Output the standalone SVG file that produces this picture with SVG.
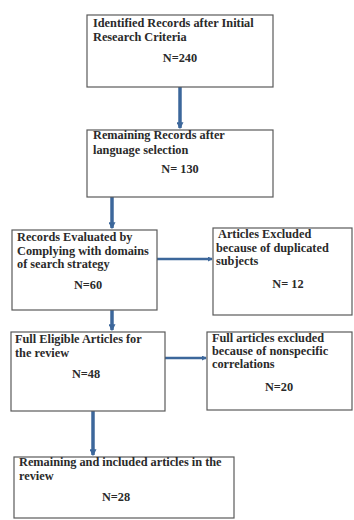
<svg xmlns="http://www.w3.org/2000/svg" width="354" height="520" viewBox="0 0 354 520">
<defs>
<style>
.box{fill:#fff;stroke:#5a5a5a;stroke-width:1.2}
.t{font-family:"Liberation Serif","Times New Roman",serif;font-size:12.3px;font-weight:bold;fill:#2a2a2a}
.c{text-anchor:middle}
.v{stroke:#3c679b;stroke-width:3.5;fill:none}
.h{stroke:#3c679b;stroke-width:2.5;fill:none}
</style>
<marker id="ah" viewBox="0 0 6 6" refX="5" refY="3" markerWidth="2" markerHeight="2" orient="auto" markerUnits="strokeWidth">
<path d="M0,0 L6,3 L0,6 z" fill="#3c679b"/>
</marker>
</defs>
<rect width="354" height="520" fill="#fff"/>
<g id="connectors">
<line class="v" x1="180" y1="87" x2="180" y2="128" marker-end="url(#ah)"/>
<line class="v" x1="112" y1="197" x2="112" y2="228" marker-end="url(#ah)"/>
<line class="h" x1="157" y1="259" x2="212" y2="259" marker-end="url(#ah)"/>
<line class="v" x1="112" y1="310" x2="112" y2="330" marker-end="url(#ah)"/>
<line class="h" x1="165" y1="358" x2="206" y2="358" marker-end="url(#ah)"/>
<line class="v" x1="93" y1="411" x2="93" y2="455" marker-end="url(#ah)"/>
</g>
<g id="n1">
<rect class="box" x="87" y="15" width="186" height="72"/>
<text class="t" x="93" y="27">Identified Records after Initial</text>
<text class="t" x="93" y="41">Research Criteria</text>
<text class="t c" x="180" y="62">N=240</text>
</g>
<g id="n2">
<rect class="box" x="87" y="130" width="186" height="67"/>
<text class="t" x="93" y="139">Remaining Records after</text>
<text class="t" x="93" y="154">language selection</text>
<text class="t c" x="180" y="173">N= 130</text>
</g>
<g id="n3">
<rect class="box" x="12" y="230" width="145" height="80"/>
<text class="t" x="17" y="241">Records Evaluated by</text>
<text class="t" x="17" y="255">Complying with domains</text>
<text class="t" x="17" y="268">of search strategy</text>
<text class="t c" x="88" y="289">N=60</text>
</g>
<g id="n4">
<rect class="box" x="213" y="228" width="139" height="87"/>
<text class="t" x="218" y="238">Articles Excluded</text>
<text class="t" x="216" y="252">because of duplicated</text>
<text class="t" x="216" y="265">subjects</text>
<text class="t c" x="288" y="288">N= 12</text>
</g>
<g id="n5">
<rect class="box" x="11" y="332" width="154" height="79"/>
<text class="t" x="15" y="343">Full Eligible Articles for</text>
<text class="t" x="15" y="357">the review</text>
<text class="t c" x="86" y="378">N=48</text>
</g>
<g id="n6">
<rect class="box" x="207" y="332" width="145" height="78"/>
<text class="t" x="212" y="342">Full articles excluded</text>
<text class="t" x="212" y="355">because of nonspecific</text>
<text class="t" x="212" y="368">correlations</text>
<text class="t c" x="279" y="391">N=20</text>
</g>
<g id="n7">
<rect class="box" x="14" y="457" width="220" height="61"/>
<text class="t" x="19" y="466">Remaining and included articles in the</text>
<text class="t" x="19" y="480">review</text>
<text class="t c" x="116" y="501">N=28</text>
</g>
</svg>
